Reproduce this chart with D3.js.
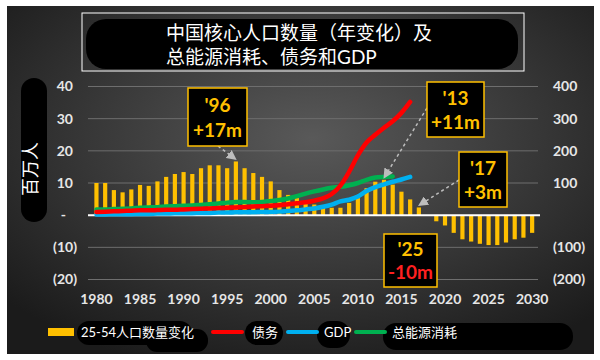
<!DOCTYPE html>
<html>
<head>
<meta charset="utf-8">
<script src="https://cdn.jsdelivr.net/npm/d3@7"></script>
<style>
  body { margin: 0; background: #fff; }
  text { font-family: Lato, "Noto Sans CJK SC", sans-serif; }
</style>
</head>
<body>
<div id="chart"></div>
<script>
// years on the x axis (bars run 1980-2030, lines stop earlier)
const years = [1980, 1981, 1982, 1983, 1984, 1985, 1986, 1987, 1988, 1989,
  1990, 1991, 1992, 1993, 1994, 1995, 1996, 1997, 1998, 1999,
  2000, 2001, 2002, 2003, 2004, 2005, 2006, 2007, 2008, 2009,
  2010, 2011, 2012, 2013, 2014, 2015, 2016, 2017, 2018, 2019,
  2020, 2021, 2022, 2023, 2024, 2025, 2026, 2027, 2028, 2029, 2030];

// 25-54 population, yearly change (millions, left axis)
const workforceChange = [10.0, 10.0, 7.8, 7.1, 8.0, 9.4, 9.1, 10.5, 11.9, 12.8,
  13.4, 12.8, 14.6, 15.5, 15.5, 14.6, 16.7, 14.6, 13.1, 11.9,
  10.5, 7.8, 6.3, 5.3, 3.6, 3.3, 2.8, 2.3, 2.3, 3.8,
  5.3, 8.4, 10.4, 11.0, 9.5, 7.3, 4.9, 2.4, 0, -1.9,
  -3.2, -5.5, -7.5, -8.2, -8.9, -9.3, -9.3, -8.5, -7.5, -7.0, -5.5];

// right axis series, starting 1980
const debt = [10, 11, 12, 13, 14, 15, 15, 16, 17, 17,
  18, 19, 20, 21, 22, 23, 24, 25, 27, 28,
  29, 31, 34, 37, 40, 45, 52, 66, 92, 135,
  186, 226, 250, 272, 292, 318, 352];
const gdp = [2, 2, 3, 3, 3, 4, 4, 5, 5, 6,
  6, 6, 7, 7, 8, 8, 9, 9, 9, 10,
  10, 11, 13, 15, 18, 21, 26, 33, 43, 48,
  58, 75, 87, 96, 104, 111, 119];
const energy = [18, 18, 19, 20, 21, 23, 24, 25, 27, 28,
  29, 30, 32, 34, 36, 39, 41, 41, 40, 41,
  44, 47, 52, 59, 67, 74, 80, 85, 88, 93,
  100, 110, 117, 119, 120];

const leftTicks = [-20, -10, 0, 10, 20, 30, 40];
const rightTicks = [-200, -100, 100, 200, 300, 400];
const yearTicks = [1980, 1985, 1990, 1995, 2000, 2005, 2010, 2015, 2020, 2025, 2030];

const calloutYears = [1996, 2013, 2017, 2025];
const calloutLabels = ["'96", "'13", "'17", "'25"];
const calloutChanges = ["+17m", "+11m", "+3m", "-10m"];

const width = 600, height = 360;
const gold = "#FFC000";

const svg = d3.select("#chart").append("svg")
  .attr("width", width)
  .attr("height", height);

const defs = svg.append("defs");
const grad = defs.append("radialGradient")
  .attr("id", "bg")
  .attr("cx", "52%").attr("cy", "38%").attr("r", "70%");
grad.append("stop").attr("offset", "0%").attr("stop-color", "#595959");
grad.append("stop").attr("offset", "100%").attr("stop-color", "#1b1b1b");

defs.append("marker")
  .attr("id", "arrow")
  .attr("viewBox", "0 0 10 10")
  .attr("refX", 9).attr("refY", 5)
  .attr("markerWidth", 10).attr("markerHeight", 10)
  .attr("markerUnits", "userSpaceOnUse")
  .attr("orient", "auto")
  .append("path")
  .attr("d", "M0,0L10,5L0,10z")
  .attr("fill", "#bdbdbd");

// background panel
svg.append("rect")
  .attr("x", 7).attr("y", 6)
  .attr("width", 587).attr("height", 348)
  .attr("fill", "url(#bg)");

// scales
const x = d3.scaleBand()
  .domain(years)
  .range([92.1, 536.5])
  .paddingInner(0.52)
  .paddingOuter(0.26);
const xc = (yr) => x(yr) + x.bandwidth() / 2;

const yL = d3.scaleLinear().domain([-20, 40]).range([279.5, 86.5]);
const yR = d3.scaleLinear().domain([-200, 400]).range([279.5, 86.5]);

// gridlines
svg.append("g")
  .selectAll("line")
  .data(leftTicks.filter((d) => d !== 0))
  .join("line")
  .attr("x1", 88).attr("x2", 538)
  .attr("y1", (d) => yL(d)).attr("y2", (d) => yL(d))
  .attr("stroke", "#6e6e6e")
  .attr("stroke-width", 1);

// black marker scribbles (title, axis name, legend)
const blobs = svg.append("g").attr("fill", "#000");
blobs.append("rect").attr("x", 86).attr("y", 19).attr("width", 432).attr("height", 50).attr("rx", 20);
blobs.append("rect").attr("x", 21).attr("y", 78).attr("width", 26).attr("height", 144).attr("rx", 13);
blobs.append("rect").attr("x", 77).attr("y", 321).attr("width", 115).attr("height", 24).attr("rx", 12);
blobs.append("rect").attr("x", 146).attr("y", 329).attr("width", 62).attr("height", 23).attr("rx", 11);
blobs.append("rect").attr("x", 245).attr("y", 321).attr("width", 38).attr("height", 24).attr("rx", 12);
blobs.append("rect").attr("x", 317).attr("y", 321).attr("width", 33).attr("height", 27).attr("rx", 13);
blobs.append("rect").attr("x", 383).attr("y", 323).attr("width", 190).attr("height", 27).attr("rx", 13);

// title
svg.append("rect")
  .attr("x", 82).attr("y", 13)
  .attr("width", 442).attr("height", 58)
  .attr("fill", "none")
  .attr("stroke", "#fff")
  .attr("stroke-width", 1);
const title = svg.append("text")
  .attr("fill", "#fff")
  .attr("font-size", 19)
  .attr("font-family", "'Noto Sans CJK SC', sans-serif");
title.append("tspan").attr("x", 166).attr("y", 40).text("中国核心人口数量（年变化）及");
title.append("tspan").attr("x", 166).attr("y", 64).text("总能源消耗、债务和GDP");

// bars
svg.append("g")
  .selectAll("rect")
  .data(years.map((yr, i) => ({ year: yr, value: workforceChange[i] })))
  .join("rect")
  .attr("x", (d) => x(d.year))
  .attr("width", x.bandwidth())
  .attr("y", (d) => yL(Math.max(0, d.value)))
  .attr("height", (d) => Math.abs(yL(d.value) - yL(0)))
  .attr("fill", gold);

// zero line
svg.append("line")
  .attr("x1", 88).attr("x2", 540)
  .attr("y1", yL(0)).attr("y2", yL(0))
  .attr("stroke", "#fff")
  .attr("stroke-width", 2);

// lines on the right axis
const line = d3.line()
  .x((d) => xc(d.year))
  .y((d) => yR(d.value))
  .curve(d3.curveMonotoneX);

const series = [
  { values: gdp, color: "#00B0F0" },
  { values: energy, color: "#00B050" },
  { values: debt, color: "#FF0000" },
];
for (const s of series) {
  svg.append("path")
    .datum(s.values.map((v, i) => ({ year: years[i], value: v })))
    .attr("d", line)
    .attr("fill", "none")
    .attr("stroke", s.color)
    .attr("stroke-width", 4.5)
    .attr("stroke-linecap", "round");
}

// axes
const leftAxis = svg.append("g")
  .attr("transform", "translate(77,0)")
  .call(d3.axisLeft(yL).tickValues(leftTicks).tickSize(0).tickPadding(0)
    .tickFormat((d) => (d < 0 ? `(${-d})` : d === 0 ? "-" : d)));
leftAxis.selectAll("text")
  .attr("dx", (d) => (d > 0 ? -4 : d === 0 ? -11 : 0));

const rightAxis = svg.append("g")
  .attr("transform", "translate(553,0)")
  .call(d3.axisRight(yR).tickValues(rightTicks).tickSize(0).tickPadding(0)
    .tickFormat((d) => (d < 0 ? `(${-d})` : d)));

const bottomAxis = svg.append("g")
  .attr("transform", "translate(0,294)")
  .call(d3.axisBottom(x).tickValues(yearTicks).tickSize(0).tickPadding(0));

for (const ax of [leftAxis, rightAxis, bottomAxis]) {
  ax.select(".domain").remove();
  ax.selectAll("text")
    .attr("fill", "#e6e6e6")
    .attr("font-size", 14)
    .attr("font-weight", "bold")
    .attr("font-family", "Lato, sans-serif");
}

// y axis name
svg.append("text")
  .attr("transform", "translate(37,169) rotate(-90)")
  .attr("text-anchor", "middle")
  .attr("fill", "#fff")
  .attr("font-size", 18)
  .attr("font-family", "'Noto Sans CJK SC', sans-serif")
  .text("百万人");

// callouts: box layout and arrow starts are hand placed
const calloutBoxes = [
  { x: 188, y: 88, w: 59, h: 58, from: [218, 146] },
  { x: 427, y: 82, w: 57, h: 55, from: [427, 108] },
  { x: 459, y: 152, w: 48, h: 55, from: [459, 180] },
  { x: 384, y: 234, w: 53, h: 53, from: null },
];

calloutYears.forEach((yr, i) => {
  const b = calloutBoxes[i];
  const value = workforceChange[years.indexOf(yr)];
  if (b.from) {
    svg.append("line")
      .attr("x1", b.from[0]).attr("y1", b.from[1])
      .attr("x2", xc(yr)).attr("y2", yL(value) - 2)
      .attr("stroke", "#bdbdbd")
      .attr("stroke-width", 1.5)
      .attr("stroke-dasharray", "3,3")
      .attr("marker-end", "url(#arrow)");
  }
  svg.append("rect")
    .attr("x", b.x).attr("y", b.y)
    .attr("width", b.w).attr("height", b.h)
    .attr("fill", "#000")
    .attr("stroke", gold)
    .attr("stroke-width", 1.5);
  const t = svg.append("text")
    .attr("text-anchor", "middle")
    .attr("font-size", 19)
    .attr("font-weight", "bold")
    .attr("font-family", "Lato, sans-serif");
  t.append("tspan")
    .attr("x", b.x + b.w / 2).attr("y", b.y + b.h * 0.42)
    .attr("fill", gold)
    .text(calloutLabels[i]);
  t.append("tspan")
    .attr("x", b.x + b.w / 2).attr("y", b.y + b.h * 0.85)
    .attr("fill", value < 0 ? "#FF2020" : gold)
    .text(calloutChanges[i]);
});

// legend
const legend = svg.append("g")
  .attr("font-size", 13)
  .attr("fill", "#fff")
  .attr("font-family", "Lato, 'Noto Sans CJK SC', sans-serif");
legend.append("rect")
  .attr("x", 48).attr("y", 328)
  .attr("width", 26).attr("height", 8)
  .attr("fill", gold);
legend.append("text").attr("x", 81).attr("y", 337).text("25-54人口数量变化");

const legendLines = [
  { x: 213, color: "#FF0000", label: "债务", tx: 252 },
  { x: 288, color: "#00B0F0", label: "GDP", tx: 324 },
  { x: 356, color: "#00B050", label: "总能源消耗", tx: 392 },
];
for (const l of legendLines) {
  legend.append("line")
    .attr("x1", l.x).attr("x2", l.x + 29)
    .attr("y1", 332).attr("y2", 332)
    .attr("stroke", l.color)
    .attr("stroke-width", 4)
    .attr("stroke-linecap", "round");
  legend.append("text").attr("x", l.tx).attr("y", 337).text(l.label);
}
</script>
</body>
</html>
